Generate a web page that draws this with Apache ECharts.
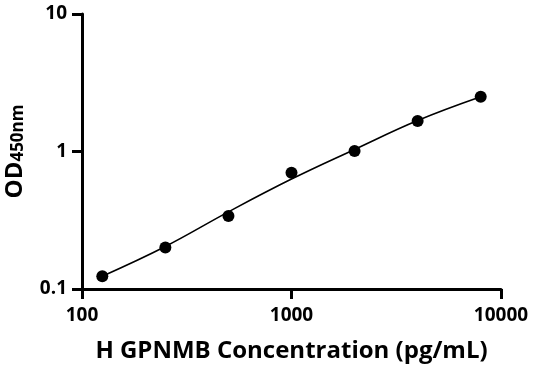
<!DOCTYPE html>
<html><head><meta charset="utf-8">
<script src="https://cdn.jsdelivr.net/npm/echarts@6/dist/echarts.min.js"></script>
<style>html,body{margin:0;padding:0;background:#fff}#c{width:536px;height:371px}</style>
</head><body><div id="c"></div>
<script>
const concentrations = [125, 250, 500, 1000, 2000, 4000, 8000];
const odValues = [0.124, 0.200, 0.340, 0.701, 1.008, 1.667, 2.50];
const curveX = [125, 250, 500, 1000, 2000, 4000, 8000];
const curveY = [0.124, 0.204, 0.364, 0.630, 1.035, 1.68, 2.50];
const xTicks = [100, 1000, 10000];
const yTicks = [0.1, 1, 10];

const FONT = 'Open Sans';
const chart = echarts.init(document.getElementById('c'));
chart.setOption({
  animation: false,
  grid: {left: 82, right: 35, top: 14, bottom: 82, containLabel: false, outerBoundsMode: 'none'},
  xAxis: {
    type: 'log', logBase: 10, min: xTicks[0], max: xTicks[xTicks.length-1],
    axisLine: {lineStyle: {color: '#000', width: 3}},
    axisTick: {show: true, interval: 0, inside: false, length: 10, lineStyle: {color: '#000', width: 3}},
    minorTick: {show: false}, splitLine: {show: false},
    axisLabel: {color: '#000', fontFamily: FONT, fontWeight: 'bold', fontSize: 19, margin: 17,
      formatter: v => String(Math.round(v))},
    name: 'H GPNMB Concentration (pg/mL)', nameLocation: 'middle', nameGap: 50,
    nameTextStyle: {color: '#000', fontFamily: FONT, fontWeight: 'bold', fontSize: 24}
  },
  yAxis: {
    type: 'log', logBase: 10, min: yTicks[0], max: yTicks[yTicks.length-1],
    axisLine: {lineStyle: {color: '#000', width: 3}},
    axisTick: {show: true, interval: 0, inside: false, length: 10, lineStyle: {color: '#000', width: 3}},
    minorTick: {show: false}, splitLine: {show: false},
    axisLabel: {color: '#000', fontFamily: FONT, fontWeight: 'bold', fontSize: 19, margin: 15,
      formatter: v => (v < 1 ? v.toFixed(1) : String(Math.round(v)))},
    name: '{a|OD}{b|450nm}', nameLocation: 'middle', nameGap: 55, nameRotate: 90,
    nameTextStyle: {color: '#000', fontFamily: FONT, fontWeight: 'bold',
      rich: {
        a: {fontFamily: FONT, fontWeight: 'bold', fontSize: 24, color: '#000', verticalAlign: 'bottom', lineHeight: 26},
        b: {fontFamily: FONT, fontWeight: 'bold', fontSize: 17, color: '#000', verticalAlign: 'bottom', lineHeight: 26, padding: [0,0,0,0]}
      }}
  },
  series: [
    {type: 'line', data: curveX.map((x, i) => [x, curveY[i]]), smooth: 0.4, showSymbol: false,
     lineStyle: {color: '#000', width: 1.6}, silent: true, z: 2},
    {type: 'scatter', data: concentrations.map((x, i) => [x, odValues[i]]), symbolSize: 12,
     itemStyle: {color: '#000', opacity: 1}, z: 3}
  ]
});
</script></body></html>
